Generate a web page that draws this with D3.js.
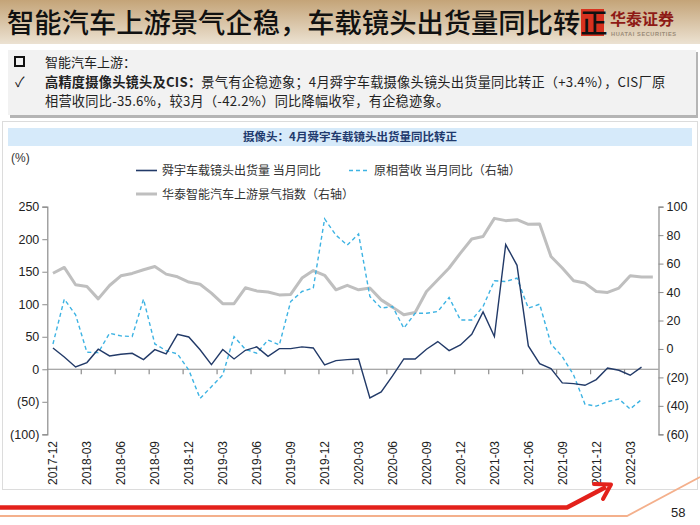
<!DOCTYPE html>
<html><head><meta charset="utf-8">
<script src="https://cdn.jsdelivr.net/npm/d3@7"></script>
<style>
html,body{margin:0;padding:0;background:#fff;}
svg{display:block;}
text{font-family:"Noto Sans CJK SC","Noto Sans",sans-serif;}
.num{font-family:"Liberation Sans",Arial,sans-serif;}
</style></head>
<body>
<svg id="c" width="700" height="525"></svg>
<script>
const categories = ["2017-12","2018-01","2018-02","2018-03","2018-04","2018-05","2018-06","2018-07","2018-08","2018-09","2018-10","2018-11",
"2018-12","2019-01","2019-02","2019-03","2019-04","2019-05","2019-06","2019-07","2019-08","2019-09","2019-10","2019-11",
"2019-12","2020-01","2020-02","2020-03","2020-04","2020-05","2020-06","2020-07","2020-08","2020-09","2020-10","2020-11",
"2020-12","2021-01","2021-02","2021-03","2021-04","2021-05","2021-06","2021-07","2021-08","2021-09","2021-10","2021-11",
"2021-12","2022-01","2022-02","2022-03","2022-04","2022-05"];
// 舜宇车载镜头出货量 当月同比 (left axis, %)
const sunnyLens = [32.8,19,3.6,10.3,30.8,20.5,23,24.6,14.9,30.2,23.6,53.8,49.7,30,7.2,30.3,15.9,29.2,34.4,20,31.8,31.8,34.4,32.8,6.7,13.3,14.9,
15.9,-44,-34.9,-10.3,15.9,15.9,30.8,42.6,28.7,37.4,53.8,88.2,50.3,191.8,159.9,35.9,8.7,1,-21,-22,-24.6,-15.9,2,-1.5,-9.2,3.4,null];
// 原相营收 当月同比 (right axis, %)
const pixartRev = [3.5,35,24,-2.3,-2.6,11,9.2,8.7,35,3.5,-1.2,-3.5,-14.8,-34.8,-26.5,-18.3,8.7,-0.2,-3,6.3,2.8,33.3,40.4,42.8,91.4,80,73,
80.8,36.9,28.7,29.8,14.6,25.1,25.1,26.3,36.2,20.4,20.4,29.8,47.9,47.4,49.8,28.7,31.5,3.5,-5.4,-18.3,-38.8,-40.2,-37.1,-35.2,-42.2,-35.6,null];
// 华泰智能汽车上游景气指数 (right axis)
const huataiIndex = [53.2,57.3,45.1,43.9,35.2,44.6,51.4,53.1,55.7,58,52.6,50.7,47,45.5,39.2,31.8,31.8,43,40.8,40,38,38.3,49.8,55.1,51.8,41.6,44.7,
41.6,42.8,34.5,29.4,24,25.6,40.4,48.6,56.9,67.4,77.3,79.1,91.8,90.2,90.9,87.6,87.9,65,56.9,47.9,46.3,40.4,39.7,42.8,51.4,50.5,50.5];
const leftTicks = [250,200,150,100,50,0,-50,-100];
const rightTicks = [100,80,60,40,20,0,-20,-40,-60];
const legendNames = ["舜宇车载镜头出货量 当月同比","原相营收 当月同比（右轴）","华泰智能汽车上游景气指数（右轴）"];

const svg = d3.select("#c");
const defs = svg.append("defs");
const hg = defs.append("linearGradient").attr("id","hdr").attr("x1",0).attr("y1",0).attr("x2",0).attr("y2",1);
hg.append("stop").attr("offset","0%").attr("stop-color","#c4a478");
hg.append("stop").attr("offset","100%").attr("stop-color","#ece2d2");

// header
svg.append("rect").attr("x",0).attr("y",0).attr("width",700).attr("height",44).attr("fill","url(#hdr)");
// logo
svg.append("rect").attr("x",581).attr("y",9).attr("width",23).attr("height",27).attr("fill","#d8321f");
svg.append("text").attr("x",610).attr("y",25).attr("font-size",16).attr("font-weight",700).attr("fill","#8e1b16").text("华泰证券");
svg.append("text").attr("class","num").attr("x",611).attr("y",36).attr("font-size",5.6).attr("font-weight",700).attr("fill","#9a8b78").attr("letter-spacing",0.6).text("HUATAI SECURITIES");
svg.append("text").attr("x",7).attr("y",33).attr("font-size",27.3).attr("font-weight",500).attr("fill","#111").text("智能汽车上游景气企稳，车载镜头出货量同比转正");

// text box
svg.append("rect").attr("x",10).attr("y",52).attr("width",688).attr("height",66).attr("fill","#b5b5b5");
svg.append("rect").attr("x",8).attr("y",50).attr("width",688).attr("height",65).attr("fill","#f2f2f2");
svg.append("rect").attr("x",15).attr("y",57).attr("width",9).attr("height",9).attr("fill","none").attr("stroke","#111").attr("stroke-width",2);
svg.append("text").attr("x",45).attr("y",66.5).attr("font-size",13).attr("fill","#222").text("智能汽车上游：");
svg.append("text").attr("x",15).attr("y",87).attr("font-size",14).attr("fill","#222").text("✓");
const t2 = svg.append("text").attr("x",45).attr("y",86.5).attr("font-size",13.2).attr("letter-spacing",0.25).attr("fill","#222");
t2.append("tspan").attr("font-weight",700).text("高精度摄像头镜头及CIS：");
t2.append("tspan").text("景气有企稳迹象；4月舜宇车载摄像头镜头出货量同比转正（+3.4%），CIS厂原");
svg.append("text").attr("x",45).attr("y",105.8).attr("font-size",13.2).attr("letter-spacing",0.25).attr("fill","#222").text("相营收同比-35.6%，较3月（-42.2%）同比降幅收窄，有企稳迹象。");

// chart frame
svg.append("rect").attr("x",2.5).attr("y",121.5).attr("width",695).attr("height",368).attr("fill","none").attr("stroke","#dcdcdc");
svg.append("rect").attr("x",8).attr("y",128).attr("width",684).attr("height",18).attr("fill","#d6eafa");
svg.append("text").attr("x",350).attr("y",141).attr("text-anchor","middle").attr("font-size",11.5).attr("font-weight",700).attr("fill","#1f3a6e").text("摄像头：4月舜宇车载镜头出货量同比转正");
svg.append("text").attr("class","num").attr("x",11).attr("y",162).attr("font-size",12).attr("fill","#333").text("(%)");

// scales
const x = d3.scaleBand().domain(categories).range([47.3,658.5]).padding(0);
const cx = d => x(d) + x.bandwidth()/2;
const yL = d3.scaleLinear().domain([-100,250]).range([434.3,206.7]);
const yR = d3.scaleLinear().domain([-60,100]).range([434.3,206.7]);

// axes
const axL = svg.append("g").attr("transform","translate(47.3,0)")
  .call(d3.axisLeft(yL).tickValues(leftTicks).tickSize(5).tickPadding(3).tickFormat(v => v<0?`(${-v})`:v));
const axR = svg.append("g").attr("transform","translate(658.5,0)")
  .call(d3.axisRight(yR).tickValues(rightTicks).tickSize(5).tickPadding(3).tickFormat(v => v<0?`(${-v})`:v));
[axL,axR].forEach(a=>{
  a.select(".domain").attr("stroke","#8c8c8c").attr("stroke-width",1.2);
  a.selectAll(".tick line").attr("stroke","#8c8c8c");
  a.selectAll("text").attr("class","num").attr("font-size",12.5).attr("fill","#222").style("font-family","'Liberation Sans',Arial,sans-serif");
});
// x axis at zero
const y0 = yL(0);
svg.append("line").attr("x1",47.3).attr("x2",658.5).attr("y1",y0).attr("y2",y0).attr("stroke","#8c8c8c").attr("stroke-width",1.2);
const tickCats = categories.filter((c,i)=> i>0 && i%3===0);
svg.append("g").selectAll("line").data(tickCats).join("line")
  .attr("x1",d=>x(d)).attr("x2",d=>x(d)).attr("y1",y0).attr("y2",y0+5).attr("stroke","#8c8c8c").attr("stroke-width",1.2);
const labCats = categories.filter((c,i)=> i%3===0 && i<=51);
svg.append("g").selectAll("text").data(labCats).join("text")
  .attr("class","num")
  .attr("transform",d=>`translate(${cx(d)+4.3},441) rotate(-90)`)
  .attr("text-anchor","end").attr("font-size",12).attr("fill","#222")
  .style("font-family","'Liberation Sans',Arial,sans-serif")
  .text(d=>d);

// lines
const idx = d3.range(categories.length);
const lineG = d3.line().defined(i=>huataiIndex[i]!=null).x(i=>cx(categories[i])).y(i=>yR(huataiIndex[i]));
svg.append("path").datum(idx).attr("d",lineG).attr("fill","none").attr("stroke","#bfbfbf").attr("stroke-width",3).attr("stroke-linejoin","round");
const lineP = d3.line().defined(i=>pixartRev[i]!=null).x(i=>cx(categories[i])).y(i=>yR(pixartRev[i]));
svg.append("path").datum(idx).attr("d",lineP).attr("fill","none").attr("stroke","#3db3e3").attr("stroke-width",1.4).attr("stroke-dasharray","4,3");
const lineS = d3.line().defined(i=>sunnyLens[i]!=null).x(i=>cx(categories[i])).y(i=>yL(sunnyLens[i]));
svg.append("path").datum(idx).attr("d",lineS).attr("fill","none").attr("stroke","#223a68").attr("stroke-width",1.4);

// legend
const lg = svg.append("g");
lg.append("line").attr("x1",136).attr("x2",157).attr("y1",170.5).attr("y2",170.5).attr("stroke","#223a68").attr("stroke-width",1.6);
lg.append("text").attr("x",162).attr("y",175).attr("font-size",12).attr("fill","#333").text(legendNames[0]);
lg.append("line").attr("x1",349).attr("x2",368).attr("y1",170.5).attr("y2",170.5).attr("stroke","#3db3e3").attr("stroke-width",1.6).attr("stroke-dasharray","4,3");
lg.append("text").attr("x",374).attr("y",175).attr("font-size",12).attr("fill","#333").text(legendNames[1]);
lg.append("line").attr("x1",136).attr("x2",157).attr("y1",194).attr("y2",194).attr("stroke","#bfbfbf").attr("stroke-width",3);
lg.append("text").attr("x",162).attr("y",198.5).attr("font-size",12).attr("fill","#333").text(legendNames[2]);

// bottom decoration
svg.append("path").attr("d","M0,516 L627,516 L700,477").attr("fill","none").attr("stroke","#f4b08c").attr("stroke-width",1.8);
svg.append("path").attr("d","M0,507.5 L567,507.5 L606,487").attr("fill","none").attr("stroke","#e3211b").attr("stroke-width",4.5).attr("stroke-linejoin","round");
svg.append("path").attr("d","M594,484 L611,484.5 L603,499").attr("fill","none").attr("stroke","#e3211b").attr("stroke-width",4).attr("stroke-linejoin","round").attr("stroke-linecap","round");
svg.append("text").attr("class","num").attr("x",671).attr("y",517).attr("font-size",13).attr("fill","#222").style("font-family","'Liberation Sans',Arial,sans-serif").text("58");
</script>
</body></html>
